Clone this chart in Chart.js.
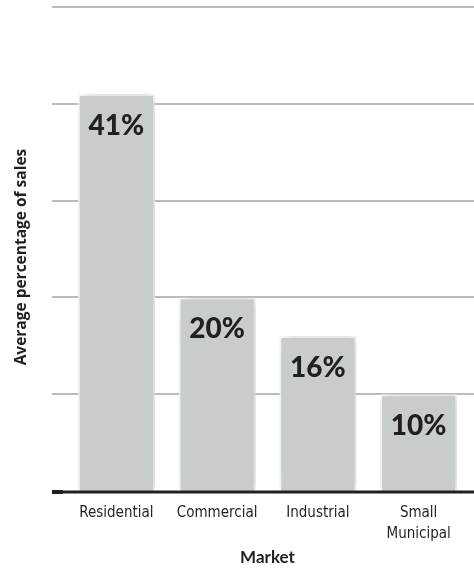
<!DOCTYPE html>
<html>
<head>
<meta charset="utf-8">
<script src="https://cdn.jsdelivr.net/npm/chart.js@4"></script>
<style>
  html, body { margin: 0; padding: 0; background: #fff; }
  #wrap { width: 474px; height: 569px; position: relative; }
</style>
</head>
<body>
<div id="wrap"><canvas id="chart"></canvas></div>
<script>
// Chart data
const markets = ['Residential', 'Commercial', 'Industrial', ['Small', 'Municipal']];
const salesShare = [41, 20, 16, 10];
const gridValues = [10, 20, 30, 40, 50];

const ink = '#231f20';

// Grid lines run past the plot to the left edge of the axis line
const gridPlugin = {
    id: 'grid',
    beforeDatasetsDraw(chart) {
        const ctx = chart.ctx;
        const y = chart.scales.y;
        ctx.save();
        ctx.strokeStyle = '#bbbbbf';
        ctx.lineWidth = 2;
        gridValues.forEach(v => {
            const py = Math.round(y.getPixelForValue(v));
            ctx.beginPath();
            ctx.moveTo(52, py);
            ctx.lineTo(chart.width, py);
            ctx.stroke();
        });
        ctx.restore();

        // soft shadow behind the bars
        ctx.save();
        ctx.shadowColor = 'rgba(0, 0, 0, 0.22)';
        ctx.shadowBlur = 14;
        ctx.shadowOffsetX = 3;
        ctx.shadowOffsetY = 0;
    },
    afterDatasetsDraw(chart) {
        const ctx = chart.ctx;
        ctx.restore();

        // baseline
        const y0 = chart.scales.y.getPixelForValue(0);
        ctx.save();
        ctx.strokeStyle = ink;
        ctx.lineWidth = 3;
        ctx.beginPath();
        ctx.moveTo(52, y0 + 1);
        ctx.lineTo(chart.width, y0 + 1);
        ctx.stroke();
        ctx.fillStyle = ink;
        ctx.fillRect(52, y0 - 1, 11, 4);

        // value labels inside the bars
        const meta = chart.getDatasetMeta(0);
        ctx.font = '900 28px Lato';
        ctx.textAlign = 'center';
        ctx.textBaseline = 'middle';
        meta.data.forEach((bar, i) => {
            ctx.fillText(salesShare[i] + '%', bar.x, bar.y + 32);
        });
        ctx.restore();
    }
};

new Chart(document.getElementById('chart'), {
    type: 'bar',
    data: {
        labels: markets,
        datasets: [{
            data: salesShare,
            backgroundColor: '#c9cdca',
            borderColor: '#ffffff',
            borderWidth: 2,
            borderSkipped: 'bottom',
            barPercentage: 0.765,
            categoryPercentage: 1
        }]
    },
    options: {
        responsive: true,
        maintainAspectRatio: false,
        animation: false,
        layout: { padding: { top: 7, right: 5, left: 0, bottom: 0 } },
        plugins: {
            legend: { display: false },
            tooltip: { enabled: false }
        },
        scales: {
            x: {
                grid: { display: false },
                border: { display: false },
                ticks: {
                    color: ink,
                    font: { family: "'DejaVu Sans Condensed', sans-serif", size: 15, lineHeight: 1.4 },
                    padding: 4,
                    maxRotation: 0
                },
                title: {
                    display: true,
                    text: 'Market',
                    color: ink,
                    font: { family: 'Lato', size: 17, weight: 'bold' },
                    padding: { top: 4, bottom: 1 }
                },
                afterFit(scale) { scale.height = 78; }
            },
            y: {
                min: 0,
                max: 50,
                ticks: { display: false, stepSize: 10 },
                grid: { display: false },
                border: { display: false },
                title: {
                    display: true,
                    // trailing spaces nudge the centred title toward the baseline
                    text: 'Average percentage of sales\u00a0\u00a0\u00a0\u00a0',
                    color: ink,
                    font: { family: 'Open Sans', size: 15.5, weight: 'bold' },
                    padding: { top: 12, bottom: 0 }
                },
                afterFit(scale) { scale.width = 66; }
            }
        }
    },
    plugins: [gridPlugin]
});
</script>
</body>
</html>
